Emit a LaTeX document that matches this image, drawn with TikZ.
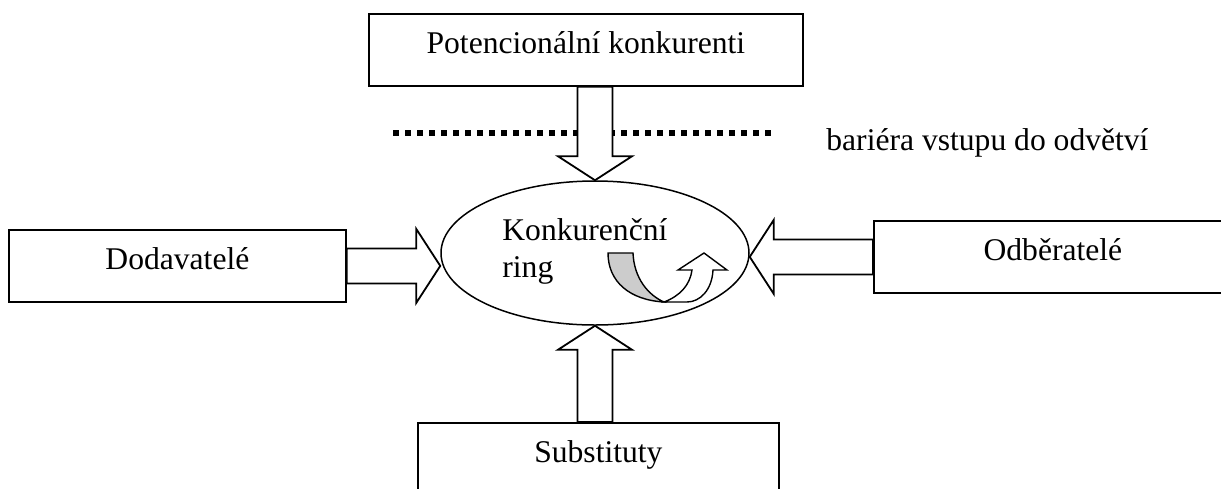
\documentclass[tikz,border=0pt]{standalone}
\usepackage{fontspec}
\setmainfont{Liberation Serif}
\usetikzlibrary{calc,positioning,shapes.geometric}

\tikzset{
  forcebox/.style={draw,line width=0.9pt,rectangle,inner xsep=0pt,inner ysep=0pt,text height=20pt,text depth=16pt,font=\fontsize{15.8}{18.5}\selectfont},
  blockarr/.style={draw,fill=white,line width=0.9pt,line join=miter},
  barrier/.style={line width=2.6pt,dash pattern=on 3pt off 3pt},
}

% block arrow from #1 to #2
\newcommand\blockarrow[2]{%
  \coordinate (head) at ($(#2)!12pt!(#1)$);
  \draw[blockarr] ($(#1)!8.75pt!90:(#2)$) -- ($(head)!8.75pt!90:(#2)$)
    -- ($(head)!18.5pt!90:(#2)$) -- (#2) -- ($(head)!18.5pt!-90:(#2)$)
    -- ($(head)!8.75pt!-90:(#2)$) -- ($(#1)!8.75pt!-90:(#2)$) -- cycle;
}

\begin{document}
\begin{tikzpicture}[x=0.5pt,y=-0.5pt]
    \useasboundingbox (0,0) rectangle (1221,488);
    \clip (0,0) rectangle (1221,488);

    % Forces (boxes)
    \node[forcebox,minimum width=217pt,anchor=north west] (entrants) at (368,13) {Potencionální konkurenti};
    \node[forcebox,minimum width=168.5pt,anchor=north west] (suppliers) at (8,229) {Dodavatelé};
    \node[forcebox,minimum width=179pt,anchor=north west] (buyers) at (873,220) {Odběratelé};
    \node[forcebox,minimum width=180.5pt,anchor=north west] (substitutes) at (417,422) {Substituty};

    % Competitive ring
    \node[draw,ellipse,line width=0.75pt,minimum width=154pt,minimum height=72pt,inner sep=0pt] (ring) at (595,253) {};
    \node[anchor=north west,inner sep=0pt,align=left,font=\fontsize{15.8}{18.5}\selectfont] (ringlabel) at (502,218) {Konkurenční\\ring};

    % Entry barrier (dotted line with label)
    \coordinate (barl) at (393,133);
    \coordinate (barr) at (771,133);
    \draw[barrier] (barl) -- (barr);
    \node[anchor=base west,inner sep=0pt,font=\fontsize{15.8}{18.5}\selectfont] (barlabel) at (826,150) {bariéra vstupu do odvětví};

    % Block arrows into the ring
    \coordinate (fromtop) at (entrants.south -| ring.north);
    \coordinate (frombottom) at (substitutes.north -| ring.south);
    \coordinate (toleft) at (suppliers.east -| ring.west);
    \coordinate (toright) at (buyers.west -| ring.east);
    \blockarrow{fromtop}{ring.north}
    \blockarrow{frombottom}{ring.south}
    \blockarrow{suppliers.east}{toleft}
    \blockarrow{buyers.west}{toright}

    % U-turn arrow inside the ring
    \draw[line width=0.7pt,fill=black!20] (608,253) -- (633,253) .. controls (634,278) and (648,295) .. (664,302)
      .. controls (630,300) and (608,282) .. (608,253) -- cycle;
    \draw[line width=0.7pt,fill=white,line join=miter] (664,302) .. controls (680,296) and (690,285) .. (692,270)
      -- (678,270) -- (704,253) -- (727,270) -- (713,270) .. controls (712,290) and (700,302) .. (687,302) -- cycle;
\end{tikzpicture}
\end{document}
